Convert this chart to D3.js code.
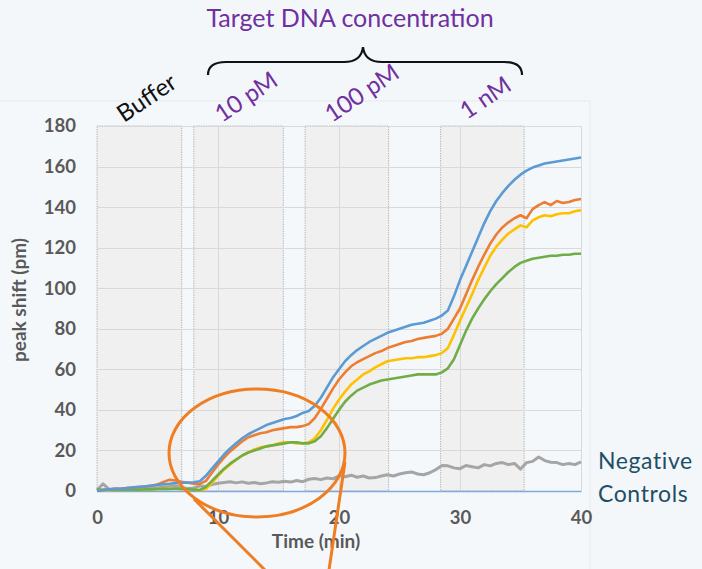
<!DOCTYPE html>
<html>
<head>
<meta charset="utf-8">
<script src="https://cdn.jsdelivr.net/npm/d3@7/dist/d3.min.js"></script>
<style>
  html, body { margin: 0; padding: 0; background: #f3f7fa; }
  svg { display: block; }
</style>
</head>
<body>
<svg id="chart" width="702" height="569"></svg>
<script>
// Sample times (min), one reading every 0.5 min
const times = d3.range(0, 40.01, 0.5);

// Peak shift (pm) for each sensor, read at the times above
const blueShift = [0,0.5,0.8,1.0,1.2,1.5,1.8,2.1,2.3,2.7,3.0,3.4,3.6,3.9,4.0,4.2,4.3,4.8,7.5,11,
  14.5,18,21,23.5,26,28,29.5,31,32.5,33.5,34.5,35.5,36,37,38.5,39.5,42,46,51,56,
  60,64,67,69.5,71.5,73.5,75,76.5,78,79,80,81,82,82.5,83,84,85,86.5,89,96,
  104,111,118,125,132,138,143,147,150.5,153.5,156,158,159.5,160.5,161.5,162,162.5,163,163.5,164,164.5];
const orangeShift = [0,0.4,0.7,1.0,1.2,1.5,1.7,2.0,2.2,2.6,3.2,4.5,5.5,5.2,4.6,4.1,3.6,3.5,5,9,
  13,16.5,19.5,22,24.5,26.5,27.5,28.5,29,30,30.5,31,31.5,31.5,32,33,36,40.5,45.5,50.5,
  55,58.5,61.5,63.5,65,66.5,68,69,70.5,71.5,72.5,73.5,74,75,75.5,76,76.5,77.5,80,85,
  90,97,104,110.5,116.5,122,126.5,130,132.5,134.5,136,134.5,139,141,142.5,141,143,142,142.5,143.5,144];
const yellowShift = [0.3,0.5,0.4,0.6,0.5,0.7,0.6,0.8,0.7,0.9,1.0,1.0,1.2,1.1,1.0,0.8,0.6,0.4,1,4,
  7.5,10.5,13,15.5,17.5,19,20.5,21.5,22,22.5,23.5,24,24,23.5,23.5,24,26,30,35,40.5,
  45,49,52.5,55,57.5,59,61,62.5,64,64.5,65,65.5,65.5,66,66,66.5,67,68,70.5,77,
  84,90.5,97,104,110,116,120.5,124,127,129,131,130,133.5,135,136,135.5,136.5,137,137,138,138.5];
const greenShift = [0.8,0.6,0.7,0.5,0.6,0.7,0.8,0.7,0.9,0.8,1.0,1.1,1.0,1.2,1.0,0.9,0.7,0.5,2,5,
  8,11,13.5,15.5,17.5,19,20,21,22,22.5,23,23.5,24,24,23.5,23.5,24.5,27,31,35.5,
  40,44,47,49.5,51,52.5,53.5,54.5,55,55.5,56,56.5,57,57.5,57.5,57.5,57.5,58.5,60.5,65,
  72,79,85,90,94.5,98.5,102,105,108,110.5,112.5,113.5,114.5,115,115.5,116,116,116.5,116.5,117,117];
const grayShift = [0.5,3.5,0.8,1.2,0.8,1.3,1.0,1.5,1.2,1.8,1.5,2.0,2.2,2.5,1.8,1.2,1.5,2.5,2.2,3.2,
  3.8,4.2,4.6,4.0,4.5,3.8,4.2,3.6,4.0,4.6,4.3,4.8,4.4,5.2,4.6,5.8,6.2,5.6,6.4,6.0,
  7.5,7.0,7.8,6.8,7.4,6.4,6.6,7.4,8.0,7.4,8.4,9.0,9.4,8.4,8.0,9.0,10.5,12.6,12.4,11.4,
  11.0,12.6,12.0,11.4,13.0,12.4,13.6,14.0,13.0,13.6,10.8,14.0,14.6,16.8,15.0,14.2,14.0,13.0,13.6,13.0,14.4];

// Injection windows (min) and their labels
const windowStarts = [0, 8.0, 17.2, 28.4];
const windowEnds = [7.0, 15.4, 24.1, 35.3];
const windowLabels = ["Buffer", "10 pM", "100 pM", "1 nM"];

const xTicks = [0, 10, 20, 30, 40];
const yTicks = [0, 20, 40, 60, 80, 100, 120, 140, 160, 180];

const series = [
  { values: grayShift, color: "#a5a5a5", width: 3 },
  { values: yellowShift, color: "#ffc000", width: 2.6 },
  { values: greenShift, color: "#70ad47", width: 2.6 },
  { values: orangeShift, color: "#ed7d31", width: 2.6 },
  { values: blueShift, color: "#5b9bd5", width: 2.6 }
];

const svg = d3.select("#chart");
const font = "Lato, 'Open Sans', sans-serif";

const x = d3.scaleLinear().domain([0, 40]).range([97, 581]);
const y = d3.scaleLinear().domain([0, 180]).range([491, 126]);

// Chart frame
svg.append("rect")
  .attr("x", -2).attr("y", 101).attr("width", 592).attr("height", 480)
  .attr("fill", "#f5f8fb").attr("stroke", "#e4e9ee").attr("stroke-width", 1);

// Shaded injection windows
svg.append("g").selectAll("rect")
  .data(windowStarts.map((s, i) => [s, windowEnds[i]]))
  .join("rect")
  .attr("x", d => x(d[0])).attr("width", d => x(d[1]) - x(d[0]))
  .attr("y", y(180)).attr("height", y(0) - y(180))
  .attr("fill", "#f0f0f0")
  .attr("stroke", "#9a9a9a").attr("stroke-width", 0.8)
  .attr("stroke-dasharray", "1.2,1.2");

// Gridlines
const grid = svg.append("g").attr("stroke", "#d9d9d9").attr("stroke-width", 1);
grid.selectAll("line.h").data(yTicks.slice(1)).join("line").attr("class", "h")
  .attr("x1", x(0)).attr("x2", x(40))
  .attr("y1", d => Math.round(y(d)) + 0.5).attr("y2", d => Math.round(y(d)) + 0.5);
grid.selectAll("line.v").data([10, 20, 30, 40]).join("line").attr("class", "v")
  .attr("y1", y(0)).attr("y2", y(180))
  .attr("x1", d => Math.round(x(d)) + 0.5).attr("x2", d => Math.round(x(d)) + 0.5);

// Y axis
const yAxis = svg.append("g").attr("transform", `translate(${x(0)},0)`)
  .call(d3.axisLeft(y).tickValues(yTicks).tickSize(0).tickPadding(21));
yAxis.select(".domain").remove();
yAxis.selectAll("text")
  .attr("font-family", font).attr("font-size", 18.5).attr("font-weight", 700)
  .attr("fill", "#595959");

// X axis: the zero line is drawn in light blue
const xAxis = svg.append("g").attr("transform", `translate(0,${y(0)})`)
  .call(d3.axisBottom(x).tickValues(xTicks).tickSize(0).tickPadding(20));
xAxis.select(".domain").attr("stroke", "#7fa8dc").attr("stroke-width", 1.6);
xAxis.selectAll("text")
  .attr("font-family", font).attr("font-size", 18.5).attr("font-weight", 700)
  .attr("fill", "#595959");

// Series
const line = d3.line().x((d, i) => x(times[i])).y(d => y(d));
svg.append("g").selectAll("path")
  .data(series)
  .join("path")
  .attr("d", d => line(d.values))
  .attr("fill", "none")
  .attr("stroke", d => d.color)
  .attr("stroke-width", d => d.width)
  .attr("stroke-linejoin", "round");

// Axis titles
svg.append("text")
  .attr("x", 316).attr("y", 548)
  .attr("text-anchor", "middle")
  .attr("font-family", font).attr("font-size", 19).attr("font-weight", 700)
  .attr("fill", "#595959")
  .text("Time (min)");
svg.append("text")
  .attr("transform", "translate(26,300) rotate(-90)")
  .attr("text-anchor", "middle")
  .attr("font-family", font).attr("font-size", 19).attr("font-weight", 700)
  .attr("fill", "#595959")
  .text("peak shift (pm)");

// Window labels, tilted above each window
const labelAnchors = [[124, 123], [222, 123], [332, 123], [467, 120]];
svg.append("g").selectAll("text")
  .data(windowLabels)
  .join("text")
  .attr("transform", (d, i) => `translate(${labelAnchors[i][0]},${labelAnchors[i][1]}) rotate(-34)`)
  .attr("font-family", font).attr("font-size", 24)
  .attr("fill", (d, i) => i === 0 ? "#111111" : "#7030a0")
  .text(d => d);

// Heading with brace spanning the target windows
svg.append("text")
  .attr("x", 350).attr("y", 27)
  .attr("text-anchor", "middle")
  .attr("font-family", font).attr("font-size", 25)
  .attr("fill", "#7030a0")
  .text("Target DNA concentration");
svg.append("path")
  .attr("d", "M208,75 C208,66 214,62 226,62 L344,62 C356,62 362,56 363,47 C364,56 370,62 382,62 L504,62 C516,62 522,66 522,75")
  .attr("fill", "none").attr("stroke", "#111111").attr("stroke-width", 2.2);

// Negative controls note
svg.append("text")
  .attr("font-family", font).attr("font-size", 23).attr("letter-spacing", 0.6)
  .attr("fill", "#1f4e66")
  .selectAll("tspan").data(["Negative", "Controls"]).join("tspan")
  .attr("x", 598).attr("y", (d, i) => 469 + i * 33)
  .text(d => d);

// Callout around the 10 pM response
svg.append("ellipse")
  .attr("cx", 257).attr("cy", 453).attr("rx", 88).attr("ry", 64)
  .attr("fill", "none").attr("stroke", "#ef7d22").attr("stroke-width", 3);
svg.append("path")
  .attr("d", "M194,499 L265,570 M345,462 L329,570")
  .attr("fill", "none").attr("stroke", "#ef7d22").attr("stroke-width", 3);
</script>
</body>
</html>
